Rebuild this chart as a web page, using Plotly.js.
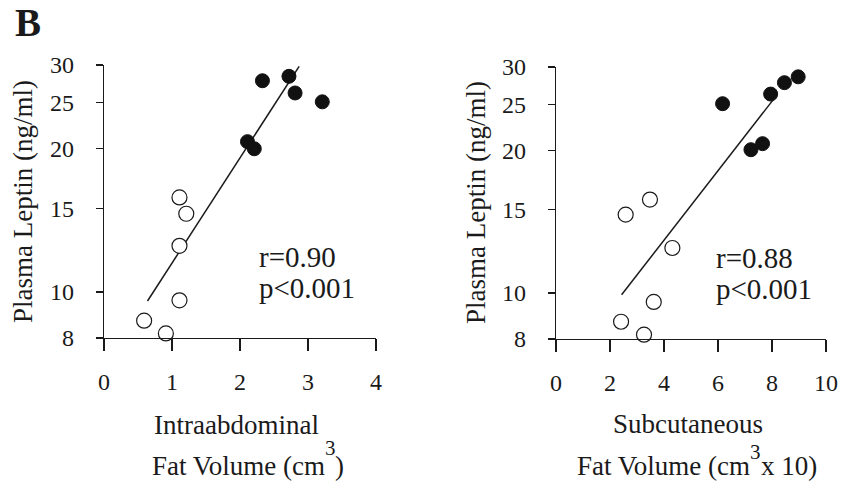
<!DOCTYPE html>
<html>
<head>
<meta charset="utf-8">
<script src="https://cdn.plot.ly/plotly-3.0.1.min.js"></script>
<style>html,body{margin:0;padding:0;background:#fff;}#chart{width:850px;height:481px;}</style>
</head>
<body>
<div id="chart"></div>
<script>
// ---- data ----
// Left panel: intraabdominal fat volume (cm3) vs plasma leptin (ng/ml)
const intraLeanX  = [1.11, 1.21, 1.11, 1.11, 0.59, 0.91];
const intraLeanY  = [15.8, 14.6, 12.5, 9.6, 8.7, 8.18];
const intraObeseX = [2.33, 2.72, 2.81, 3.21, 2.11, 2.21];
const intraObeseY = [27.8, 28.4, 26.2, 25.1, 20.7, 20.0];
const intraFitX   = [0.64, 2.87];
const intraFitY   = [9.57, 29.8];
// Right panel: subcutaneous fat volume (cm3 x 10) vs plasma leptin (ng/ml)
const subLeanX  = [3.48, 2.58, 4.31, 3.62, 2.41, 3.26];
const subLeanY  = [15.75, 14.64, 12.45, 9.58, 8.7, 8.17];
const subObeseX = [6.17, 7.22, 7.65, 7.95, 8.46, 8.97];
const subObeseY = [25.1, 20.07, 20.67, 26.3, 27.8, 28.6];
const subFitX   = [2.43, 8.07];
const subFitY   = [9.92, 25.7];
// ticks
const yTickVals = [8, 10, 15, 20, 25, 30];
const yTickText = ['8', '10', '15', '20', '25', '30'];
const xTickLeft = [0, 1, 2, 3, 4];
const xTickRight = [0, 2, 4, 6, 8, 10];

const W = 850, H = 481;
const FONT = 'Liberation Serif, Times New Roman, serif';
const INK = '#1a1a1a';

function px(x) { return x / W; }
function py(y) { return 1 - y / H; }

const openMarker = {symbol: 'circle', size: 15, color: '#ffffff', line: {color: INK, width: 1.2}};
const fillMarker = {symbol: 'circle', size: 14, color: '#111111', line: {color: '#111111', width: 1}};

const traces = [
  {x: intraFitX, y: intraFitY, xaxis: 'x', yaxis: 'y', mode: 'lines', line: {color: INK, width: 1.5}, cliponaxis: false, hoverinfo: 'skip'},
  {x: intraLeanX, y: intraLeanY, xaxis: 'x', yaxis: 'y', mode: 'markers', marker: openMarker, cliponaxis: false},
  {x: intraObeseX, y: intraObeseY, xaxis: 'x', yaxis: 'y', mode: 'markers', marker: fillMarker, cliponaxis: false},
  {x: subFitX, y: subFitY, xaxis: 'x2', yaxis: 'y2', mode: 'lines', line: {color: INK, width: 1.5}, cliponaxis: false, hoverinfo: 'skip'},
  {x: subLeanX, y: subLeanY, xaxis: 'x2', yaxis: 'y2', mode: 'markers', marker: openMarker, cliponaxis: false},
  {x: subObeseX, y: subObeseY, xaxis: 'x2', yaxis: 'y2', mode: 'markers', marker: fillMarker, cliponaxis: false}
];

const xCommon = {
  showline: true, linecolor: INK, linewidth: 1.3, showgrid: false, zeroline: false,
  ticks: 'outside', ticklen: 12, tickwidth: 1.3, tickcolor: INK,
  tickfont: {family: FONT, size: 24, color: INK}, ticklabelstandoff: 10, fixedrange: true
};
const yCommon = {
  type: 'log', range: [Math.log10(8), Math.log10(30)],
  tickmode: 'array', tickvals: yTickVals, ticktext: yTickText,
  showline: true, linecolor: INK, linewidth: 1.3, showgrid: false, zeroline: false,
  ticks: 'outside', ticklen: 7, tickwidth: 1.3, tickcolor: INK,
  tickfont: {family: FONT, size: 24, color: INK}, ticklabelstandoff: 17, fixedrange: true
};

const TF = {family: FONT, size: 27, color: INK};
const SF = {family: FONT, size: 21, color: INK};
const AF = {family: FONT, size: 29, color: INK};

function ann(text, x, y, xa, font, extra) {
  return Object.assign({text: text, xref: 'paper', yref: 'paper', x: px(x), y: py(y), xanchor: xa, yanchor: 'middle', showarrow: false, font: font, borderpad: 0, borderwidth: 0}, extra || {});
}

const layout = {
  width: W, height: H,
  margin: {l: 0, r: 0, t: 0, b: 0},
  paper_bgcolor: '#ffffff', plot_bgcolor: 'rgba(0,0,0,0)',
  showlegend: false,
  xaxis: Object.assign({}, xCommon, {domain: [px(104), px(376)], range: [0, 4], tickmode: 'array', tickvals: xTickLeft, anchor: 'y'}),
  yaxis: Object.assign({}, yCommon, {domain: [py(338), py(65)], anchor: 'x'}),
  xaxis2: Object.assign({}, xCommon, {domain: [px(556), px(826)], range: [0, 10], tickmode: 'array', tickvals: xTickRight, anchor: 'y2'}),
  yaxis2: Object.assign({}, yCommon, {domain: [py(339), py(67)], anchor: 'x2'}),
  annotations: [
    ann('<b>B</b>', 15, 22, 'left', {family: FONT, size: 39, color: INK}),
    ann('Plasma Leptin (ng/ml)', 23, 202, 'center', TF, {textangle: -90}),
    ann('Plasma Leptin (ng/ml)', 476, 203, 'center', TF, {textangle: -90}),
    ann('Intraabdominal', 236, 425, 'center', TF),
    ann('Fat Volume (cm', 325, 466, 'right', TF),
    ann('3', 325, 448, 'left', SF),
    ann(')', 335, 466, 'left', TF),
    ann('Subcutaneous', 688, 424, 'center', TF),
    ann('Fat Volume (cm', 750, 466, 'right', TF),
    ann('3', 750, 452, 'left', SF),
    ann('x 10)', 761, 466, 'left', TF),
    ann('r=0.90', 259, 257, 'left', AF),
    ann('p<0.001', 259, 288, 'left', AF),
    ann('r=0.88', 716, 258, 'left', AF),
    ann('p<0.001', 716, 289, 'left', AF)
  ]
};

Plotly.newPlot('chart', traces, layout, {displayModeBar: false, staticPlot: true});
</script>
</body>
</html>
